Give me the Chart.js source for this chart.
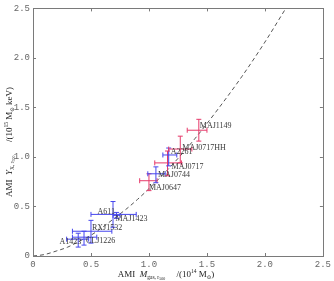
<!DOCTYPE html>
<html>
<head>
<meta charset="utf-8">
<script src="https://cdn.jsdelivr.net/npm/chart.js@4.4.0/dist/chart.umd.min.js"></script>
<style>
  html, body { margin: 0; padding: 0; background: #fff; }
  #wrap { width: 334px; height: 281px; }
</style>
</head>
<body>
<div id="wrap"><canvas id="ymChart"></canvas></div>
<script>
// cluster values
const clusters = ['A1423', 'CLJ1226', 'RXJ1532', 'A611', 'MAJ1423', 'MAJ0647', 'MAJ0744', 'MAJ0717', 'A2261', 'MAJ0717HH', 'MAJ1149'];
const mass   = [0.39, 0.44, 0.50, 0.69, 0.72, 1.00, 1.06, 1.16, 1.17, 1.27, 1.43];
const massLo = [0.29, 0.34, 0.34, 0.50, 0.69, 0.92, 0.99, 1.05, 1.12, 1.17, 1.33];
const massHi = [0.48, 0.55, 0.68, 0.89, 0.75, 1.07, 1.14, 1.28, 1.24, 1.37, 1.50];
const yx     = [0.17, 0.19, 0.25, 0.42, 0.41, 0.76, 0.83, 0.94, 1.02, 1.08, 1.27];
const yxLo   = [0.09, 0.11, 0.13, 0.29, 0.38, 0.66, 0.74, 0.81, 0.91, 0.94, 1.16];
const yxHi   = [0.23, 0.25, 0.36, 0.55, 0.44, 0.83, 0.90, 1.06, 1.09, 1.21, 1.38];
const groups = ['b', 'b', 'b', 'b', 'b', 'r', 'b', 'r', 'b', 'r', 'r'];

// dashed relation, points
const fitMass = [0, 0.1, 0.2, 0.3, 0.4, 0.5, 0.6, 0.7, 0.8, 0.9, 1.0, 1.2, 1.4, 1.6, 1.8, 2.0, 2.18];
const fitYx   = [0, 0.015, 0.05, 0.09, 0.15, 0.21, 0.29, 0.38, 0.47, 0.57, 0.68, 0.92, 1.19, 1.49, 1.81, 2.16, 2.50];

const axisTicks = [0, 0.5, 1, 1.5, 2, 2.5];

// label placement (pixels from the point) - layout only
const labelDx    = [3, 2, 1, 2, -1, 0, 2, 4, 2, 2, 1];
const labelDy    = [3, 4, -3, -2, 4, 7, 1, 4, -3, -1, -4];
const labelAlign = ['right', 'left', 'left', 'right', 'left', 'left', 'left', 'left', 'left', 'left', 'left'];

const colors = { b: '#4646ee', r: '#e6396a' };

const errorBars = {
  id: 'errorBars',
  afterDatasetsDraw(chart) {
    const ctx = chart.ctx, xs = chart.scales.x, ys = chart.scales.y;
    ctx.save();
    ctx.lineWidth = 1;
    const cap = 2.5;
    chart.data.datasets[1].data.forEach((p, i) => {
      const px = xs.getPixelForValue(p.x), py = ys.getPixelForValue(p.y);
      const x0 = xs.getPixelForValue(p.xMin), x1 = xs.getPixelForValue(p.xMax);
      const y0 = ys.getPixelForValue(p.yMin), y1 = ys.getPixelForValue(p.yMax);
      ctx.strokeStyle = colors[groups[i]];
      ctx.beginPath();
      ctx.moveTo(x0, py); ctx.lineTo(x1, py);
      ctx.moveTo(x0, py - cap); ctx.lineTo(x0, py + cap);
      ctx.moveTo(x1, py - cap); ctx.lineTo(x1, py + cap);
      ctx.moveTo(px, y0); ctx.lineTo(px, y1);
      ctx.moveTo(px - cap, y0); ctx.lineTo(px + cap, y0);
      ctx.moveTo(px - cap, y1); ctx.lineTo(px + cap, y1);
      ctx.stroke();
    });
    // cluster names
    ctx.fillStyle = '#3a3a3a';
    ctx.font = '8px "Liberation Serif", "DejaVu Serif", serif';
    ctx.textBaseline = 'middle';
    chart.data.datasets[1].data.forEach((p, i) => {
      const px = xs.getPixelForValue(p.x), py = ys.getPixelForValue(p.y);
      ctx.textAlign = labelAlign[i];
      ctx.fillText(clusters[i], px + labelDx[i], py + labelDy[i]);
    });
    ctx.restore();
  }
};

// box + inward ticks on all four sides
const frame = {
  id: 'frame',
  afterDraw(chart) {
    const ctx = chart.ctx, a = chart.chartArea, xs = chart.scales.x, ys = chart.scales.y;
    ctx.save();
    ctx.strokeStyle = '#7a7a7a';
    ctx.lineWidth = 1;
    ctx.strokeRect(Math.round(a.left) + 0.5, Math.round(a.top) + 0.5, Math.round(a.right - a.left), Math.round(a.bottom - a.top));
    ctx.beginPath();
    axisTicks.forEach(t => {
      const x = Math.round(xs.getPixelForValue(t)) + 0.5;
      ctx.moveTo(x, a.bottom); ctx.lineTo(x, a.bottom - 3);
      ctx.moveTo(x, a.top); ctx.lineTo(x, a.top + 3);
      const y = Math.round(ys.getPixelForValue(t)) + 0.5;
      ctx.moveTo(a.left, y); ctx.lineTo(a.left + 3, y);
      ctx.moveTo(a.right, y); ctx.lineTo(a.right - 3, y);
    });
    ctx.stroke();
    ctx.restore();
  }
};

// axis titles with sub/superscripts
function drawRich(ctx, segs, cx, cy, rot) {
  const fam = '"Liberation Serif", "DejaVu Serif", serif';
  let total = 0;
  segs.forEach(s => {
    ctx.font = (s.it ? 'italic ' : '') + s.sz + 'px ' + fam;
    s.w = ctx.measureText(s.t).width;
    total += s.w;
  });
  ctx.save();
  ctx.translate(cx, cy);
  ctx.rotate(rot);
  ctx.fillStyle = '#222';
  ctx.textBaseline = 'alphabetic';
  ctx.textAlign = 'left';
  let x = -total / 2;
  segs.forEach(s => {
    ctx.font = (s.it ? 'italic ' : '') + s.sz + 'px ' + fam;
    ctx.fillText(s.t, x, 3 + (s.dy || 0));
    x += s.w;
  });
  ctx.restore();
}

const titles = {
  id: 'titles',
  afterDraw(chart) {
    const ctx = chart.ctx;
    drawRich(ctx, [
      { t: 'AMI  ', sz: 9 }, { t: 'M', sz: 9, it: true },
      { t: 'gas, r', sz: 5.5, dy: 2 }, { t: '500', sz: 4, dy: 3 },
      { t: '     /(10', sz: 9 }, { t: '14', sz: 5.5, dy: -4 },
      { t: ' M', sz: 9 }, { t: '\u2299', sz: 5.5, dy: 2 }, { t: ')', sz: 9 }
    ], 166, 274, 0);
    drawRich(ctx, [
      { t: 'AMI  ', sz: 9 }, { t: 'Y', sz: 9, it: true },
      { t: 'X, r', sz: 5.5, dy: 2 }, { t: '500', sz: 4, dy: 3 },
      { t: '      /(10', sz: 9 }, { t: '15', sz: 5.5, dy: -4 },
      { t: ' M', sz: 9 }, { t: '\u2299', sz: 5.5, dy: 2 }, { t: ' keV)', sz: 9 }
    ], 9, 142, -Math.PI / 2);
  }
};

const tickFont = { family: '"Liberation Mono", "DejaVu Sans Mono", monospace', size: 9 };

new Chart(document.getElementById('ymChart'), {
  type: 'scatter',
  data: {
    datasets: [
      {
        type: 'line',
        data: fitMass.map((m, i) => ({ x: m, y: fitYx[i] })),
        borderColor: '#555',
        borderWidth: 1,
        borderDash: [4, 3],
        pointRadius: 0,
        cubicInterpolationMode: 'monotone',
        fill: false
      },
      {
        data: clusters.map((c, i) => ({
          x: mass[i], y: yx[i], xMin: massLo[i], xMax: massHi[i], yMin: yxLo[i], yMax: yxHi[i]
        })),
        pointRadius: 0,
        showLine: false
      }
    ]
  },
  options: {
    animation: false,
    responsive: true,
    maintainAspectRatio: false,
    layout: { padding: { top: 6, right: 11, left: 0, bottom: 0 } },
    plugins: { legend: { display: false }, tooltip: { enabled: false } },
    scales: {
      x: {
        type: 'linear', min: 0, max: 2.5,
        afterFit: s => { s.height = 25; },
        afterBuildTicks: s => { s.ticks = axisTicks.map(v => ({ value: v })); },
        grid: { display: false, drawTicks: false },
        border: { display: false },
        ticks: { font: tickFont, color: '#666', padding: 3, maxRotation: 0 }
      },
      y: {
        type: 'linear', min: 0, max: 2.5,
        afterFit: s => { s.width = 33; },
        afterBuildTicks: s => { s.ticks = axisTicks.map(v => ({ value: v })); },
        grid: { display: false, drawTicks: false },
        border: { display: false },
        ticks: { font: tickFont, color: '#666', padding: 3 }
      }
    }
  },
  plugins: [errorBars, frame, titles]
});
</script>
</body>
</html>
